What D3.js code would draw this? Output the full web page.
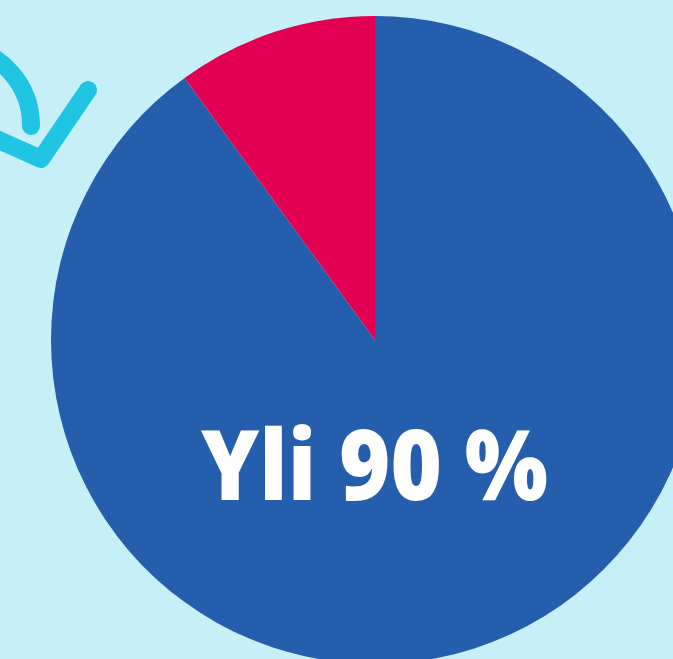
<!DOCTYPE html>
<html>
<head>
<meta charset="utf-8">
<script src="https://cdn.jsdelivr.net/npm/d3@7"></script>
<style>
  html, body { margin: 0; padding: 0; background: #c6eff8; overflow: hidden; }
</style>
</head>
<body>
<div id="kaavio"></div>
<script>
// Data
const osuudet = ['Yli 90 %', 'Muut'];
const arvot = [90, 10];
const varit = ['#255ead', '#e30052'];
const otsikko = 'Yli 90 %';

const width = 673, height = 659;
const keskiX = 375, keskiY = 340, sade = 324;

const svg = d3.select('#kaavio').append('svg')
  .attr('width', width)
  .attr('height', height)
  .style('display', 'block')
  .style('background', '#c6eff8');

// Nuoli vasemmassa yläkulmassa
const nuoli = svg.append('g')
  .attr('fill', 'none')
  .attr('stroke', '#1fc5e3')
  .attr('stroke-width', 18)
  .attr('stroke-linecap', 'round')
  .attr('stroke-linejoin', 'round');
nuoli.append('path').attr('d', 'M -40 46 A 80 80 0 0 1 31 126');
nuoli.append('path').attr('d', 'M -10 136 L 41 159 L 88 90');

// Piirakka
const pie = d3.pie().sort(null).value(d => d.arvo);
const arc = d3.arc().innerRadius(0).outerRadius(sade);
const data = osuudet.map((n, i) => ({ nimi: n, arvo: arvot[i], vari: varit[i] }));

const g = svg.append('g').attr('transform', `translate(${keskiX},${keskiY})`);
g.selectAll('path.sektori').data(pie(data)).enter().append('path')
  .attr('class', 'sektori')
  .attr('d', arc)
  .attr('fill', d => d.data.vari);

// Teksti
svg.append('text')
  .attr('x', 374.5)
  .attr('y', 500)
  .attr('text-anchor', 'middle')
  .attr('fill', '#ffffff')
  .attr('font-family', '"Open Sans", sans-serif')
  .attr('font-weight', 800)
  .attr('font-size', 98)
  .attr('textLength', 347)
  .attr('lengthAdjust', 'spacingAndGlyphs')
  .text(otsikko);
</script>
</body>
</html>
